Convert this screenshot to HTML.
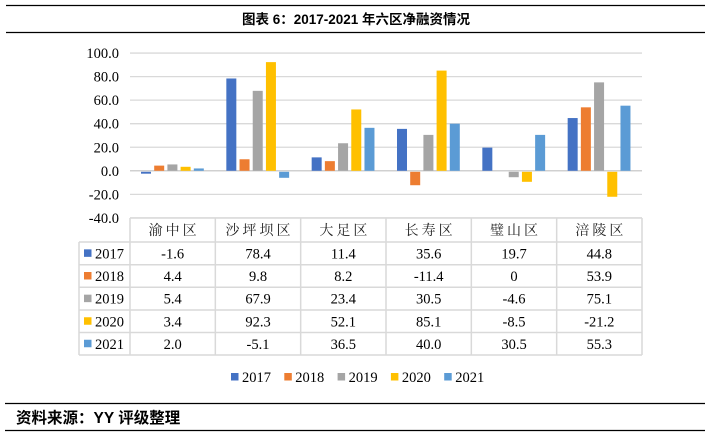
<!DOCTYPE html>
<html><head><meta charset="utf-8"><style>
html,body{margin:0;padding:0;background:#fff;width:710px;height:438px;overflow:hidden}
svg{display:block}
.t{font-family:"Liberation Serif","Noto Serif CJK SC",serif;font-size:14.5px;fill:#000}
.c{font-family:"Liberation Serif","Noto Serif CJK SC",serif;font-size:14px;fill:#222;letter-spacing:3px}
.b{font-family:"Liberation Sans","Noto Sans CJK SC",sans-serif;font-weight:bold;font-size:13.5px;fill:#000}
.f{font-family:"Liberation Sans","Noto Sans CJK SC",sans-serif;font-weight:bold;font-size:15.5px;fill:#000}
</style></head><body>
<svg id="s" width="710" height="438" xmlns="http://www.w3.org/2000/svg">
<line x1="6" y1="5.5" x2="705" y2="5.5" stroke="#000" stroke-width="1.2"/>
<line x1="6" y1="32.5" x2="705" y2="32.5" stroke="#000" stroke-width="1.2"/>
<text class="b" x="356" y="24" text-anchor="middle">图表 6：2017-2021 年六区净融资情况</text>
<line x1="5" y1="403.5" x2="705" y2="403.5" stroke="#000" stroke-width="1.2"/>
<line x1="5" y1="430.5" x2="705" y2="430.5" stroke="#000" stroke-width="1.2"/>
<text class="f" x="16" y="423">资料来源：YY 评级整理</text>
<g id="g"></g>
</svg>
<script>
var g=document.getElementById('g'),h='';
var cols=['#4472c4','#ed7d31','#a5a5a5','#ffc000','#5b9bd5'];
var yrs=['2017','2018','2019','2020','2021'];
var cats=['渝中区','沙坪坝区','大足区','长寿区','璧山区','涪陵区'];
var disp=[['-1.6','78.4','11.4','35.6','19.7','44.8'],['4.4','9.8','8.2','-11.4','0','53.9'],['5.4','67.9','23.4','30.5','-4.6','75.1'],['3.4','92.3','52.1','85.1','-8.5','-21.2'],['2.0','-5.1','36.5','40.0','30.5','55.3']];
var X0=130,X1=642,cw=(X1-X0)/6,Y0=170.8,k=1.1775;
for(var v=100;v>=-40;v-=20){var y=Y0-v*k;
 h+='<line x1="'+X0+'" x2="'+X1+'" y1="'+y+'" y2="'+y+'" stroke="#d9d9d9" stroke-width="1.3"/>';
 h+='<text class="t" x="119" y="'+(y+5)+'" text-anchor="end">'+v.toFixed(1)+'</text>';}
h+='<line x1="'+X0+'" x2="'+X1+'" y1="'+Y0+'" y2="'+Y0+'" stroke="#d0d0d0" stroke-width="1.5"/>';
for(var c=0;c<6;c++)for(var s=0;s<5;s++){var val=parseFloat(disp[s][c]);if(val==0)continue;
 var x=X0+c*cw+11+s*13.2,y=val>0?Y0-val*k:Y0+1,hh=Math.abs(val*k);
 h+='<rect x="'+x+'" y="'+y+'" width="10" height="'+hh+'" fill="'+cols[s]+'"/>';}
var TL=79,rh=[218,242,264.7,287.3,310,332.5,355];
for(var i=0;i<rh.length;i++){var x1=i==0?X0:TL;h+='<line x1="'+x1+'" x2="'+X1+'" y1="'+rh[i]+'" y2="'+rh[i]+'" stroke="#d9d9d9" stroke-width="1.5"/>';}
h+='<line x1="'+TL+'" x2="'+TL+'" y1="242" y2="355" stroke="#d9d9d9" stroke-width="1.5"/>';
for(var c=0;c<=6;c++){var x=X0+c*cw;h+='<line x1="'+x+'" x2="'+x+'" y1="218" y2="355" stroke="#d9d9d9" stroke-width="1.5"/>';}
for(var c=0;c<6;c++){h+='<text class="c" x="'+(X0+c*cw+cw/2+1.5)+'" y="235" text-anchor="middle">'+cats[c]+'</text>';}
for(var s=0;s<5;s++){var cy=(rh[s+1]+rh[s+2])/2;
 h+='<rect x="84" y="'+(cy-4)+'" width="7.5" height="7.5" fill="'+cols[s]+'"/>';
 h+='<text class="t" x="95" y="'+(cy+5)+'">'+yrs[s]+'</text>';
 for(var c=0;c<6;c++)h+='<text class="t" x="'+(X0+c*cw+cw/2)+'" y="'+(cy+5)+'" text-anchor="middle">'+disp[s][c]+'</text>';}
for(var s=0;s<5;s++){var lx=231+s*53.3;
 h+='<rect x="'+lx+'" y="373" width="7.5" height="7.5" fill="'+cols[s]+'"/>';
 h+='<text class="t" x="'+(lx+11)+'" y="382">'+yrs[s]+'</text>';}
g.innerHTML=h;
</script>
</body></html>
